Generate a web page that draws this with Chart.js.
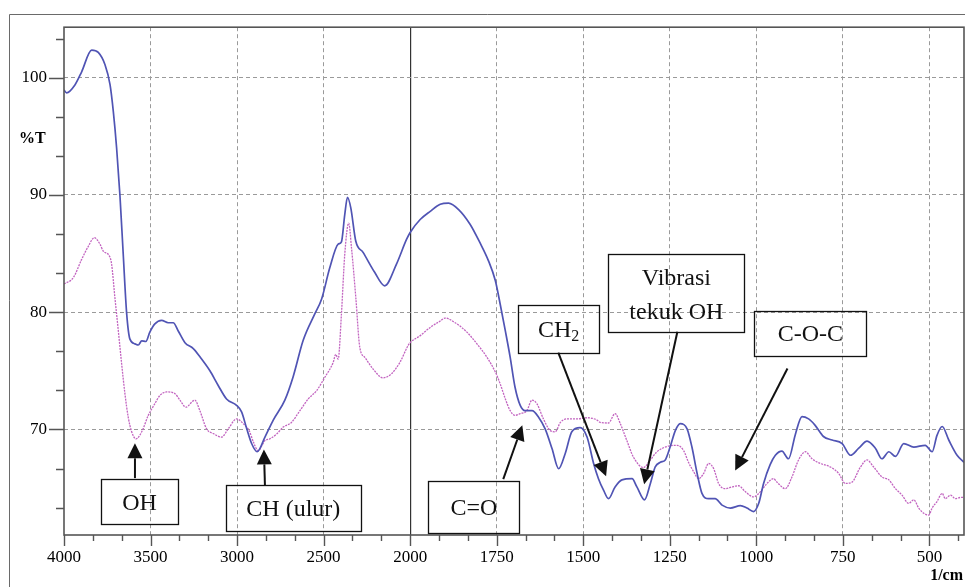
<!DOCTYPE html>
<html lang="id">
<head>
<meta charset="UTF-8">
<title>Spektrum FTIR</title>
<style>
  html, body { margin: 0; padding: 0; background: #fff; }
  #spektrum { display: block; }
</style>
</head>
<body>
<canvas id="spektrum" width="965" height="587"></canvas>
<script src="https://cdn.jsdelivr.net/npm/chart.js@4.4.1/dist/chart.umd.min.js"></script>
<script>
// bilangan gelombang (1/cm) dan %T
const biruWn = [4000, 3985, 3936, 3898, 3840, 3802, 3763, 3734, 3715, 3696, 3677, 3658, 3638, 3619, 3590, 3571, 3551, 3527, 3504, 3475,
  3436, 3398, 3369, 3340, 3301, 3253, 3205, 3157, 3109, 3061, 3003, 2974, 2945, 2916, 2884, 2839, 2791, 2724, 2676, 2618,
  2551, 2512, 2464, 2416, 2397, 2378, 2362, 2343, 2314, 2272, 2205, 2147, 2079, 2021, 2000, 1971, 1942, 1913, 1889, 1860,
  1827, 1798, 1774, 1754, 1740, 1725, 1711, 1697, 1682, 1668, 1648, 1629, 1610, 1590, 1571, 1552, 1533, 1509, 1489, 1470,
  1456, 1441, 1427, 1408, 1388, 1359, 1345, 1323, 1306, 1292, 1277, 1263, 1249, 1234, 1220, 1200, 1186, 1171, 1157, 1138,
  1119, 1099, 1075, 1046, 1027, 1008, 993, 979, 960, 945, 926, 907, 887, 868, 849, 830, 806, 781, 752, 728,
  704, 680, 656, 637, 617, 598, 574, 545, 512, 492, 478, 463, 444, 420, 400];
const biruT = [98.95, 98.7, 99.4, 100.5, 102.35, 102.15, 101.1, 99.4, 97.1, 94.0, 90.0, 85.0, 79.9, 77.7, 77.3, 77.2, 77.55, 77.5, 78.3, 79.0,
  79.3, 79.1, 79.1, 78.4, 77.4, 76.9, 76.0, 75.0, 73.75, 72.6, 72.05, 71.5, 70.1, 68.8, 68.1, 69.35, 70.8, 72.5, 74.5, 77.6,
  79.85, 81.1, 83.8, 85.8, 86.0, 88.3, 89.8, 88.9, 86.05, 85.1, 83.4, 82.25, 84.1, 86.2, 86.8, 87.9, 88.6, 89.2, 89.3, 88.75,
  87.5, 85.9, 84.4, 82.7, 80.7, 78.4, 76.15, 73.6, 72.05, 71.6, 71.6, 71.05, 70.05, 68.35, 66.65, 67.95, 69.8, 70.15, 69.35, 67.1,
  65.8, 64.8, 64.1, 65.1, 65.7, 65.8, 65.1, 64.0, 65.4, 66.8, 67.2, 67.4, 68.5, 69.9, 70.5, 70.05, 68.5, 66.25, 64.55, 64.1,
  64.1, 63.55, 63.3, 63.5, 63.3, 63.0, 63.7, 65.4, 67.0, 67.8, 68.15, 67.5, 69.6, 71.1, 70.9, 70.35, 69.4, 69.1, 68.8, 67.8,
  68.4, 69.0, 68.4, 67.5, 68.1, 67.7, 68.8, 68.5, 68.65, 68.1, 69.5, 70.25, 69.1, 67.8, 67.2];

const unguWn = [4000, 3946, 3898, 3860, 3825, 3792, 3773, 3738, 3725, 3706, 3686, 3667, 3648, 3629, 3609, 3584, 3551, 3513, 3475, 3446,
  3407, 3359, 3330, 3296, 3244, 3215, 3176, 3138, 3090, 3051, 3003, 2955, 2930, 2905, 2878, 2839, 2811, 2772, 2734, 2686,
  2637, 2589, 2541, 2493, 2445, 2430, 2416, 2397, 2378, 2355, 2339, 2314, 2291, 2262, 2214, 2157, 2108, 2060, 2012, 2000,
  1971, 1942, 1913, 1899, 1870, 1836, 1807, 1778, 1754, 1740, 1725, 1711, 1697, 1682, 1663, 1648, 1634, 1615, 1595, 1581,
  1566, 1547, 1518, 1489, 1460, 1451, 1427, 1408, 1393, 1374, 1355, 1326, 1306, 1287, 1258, 1229, 1210, 1196, 1181, 1167,
  1152, 1138, 1123, 1109, 1090, 1070, 1051, 1032, 1008, 988, 969, 950, 940, 916, 897, 878, 858, 839, 815, 786,
  762, 743, 724, 699, 680, 661, 637, 617, 598, 579, 560, 545, 531, 516, 502, 492, 478, 463, 454, 439,
  425, 410, 402];
const unguT = [82.4, 82.95, 84.5, 85.6, 86.35, 85.8, 85.2, 84.8, 84.1, 81.25, 78.4, 75.6, 73.05, 71.05, 69.8, 69.2, 69.8, 71.2, 72.2, 72.9,
  73.2, 73.05, 72.5, 71.9, 72.5, 71.6, 70.05, 69.65, 69.35, 70.05, 70.9, 70.35, 69.9, 68.9, 68.2, 69.05, 69.2, 69.6, 70.2, 70.6,
  71.6, 72.6, 73.3, 74.45, 75.7, 76.4, 76.0, 79.85, 84.9, 87.6, 85.5, 81.25, 77.0, 76.15, 75.15, 74.4, 74.75, 75.7, 77.15, 77.4,
  78.0, 78.7, 79.25, 79.5, 79.1, 78.3, 77.3, 76.15, 74.9, 73.9, 72.6, 71.6, 71.2, 71.35, 71.6, 72.5, 72.2, 70.9, 69.9, 69.8,
  70.6, 70.9, 70.9, 71.0, 70.8, 70.6, 70.55, 71.35, 70.5, 69.05, 67.65, 66.75, 67.4, 68.1, 68.55, 68.65, 68.2, 67.2, 66.4, 65.8,
  66.25, 67.1, 66.65, 65.4, 64.95, 65.1, 65.2, 64.7, 64.25, 64.7, 65.4, 65.8, 65.5, 64.95, 65.95, 67.4, 68.1, 67.5, 67.1, 66.8,
  66.25, 65.4, 65.5, 66.8, 67.4, 66.8, 65.95, 65.7, 64.95, 64.4, 63.7, 64.0, 63.3, 62.85, 62.7, 63.3, 63.85, 64.55, 64.1, 64.4,
  64.1, 64.2, 64.2];

// tick berlabel
const xMajor = [4000, 3500, 3000, 2500, 2000, 1750, 1500, 1250, 1000, 750, 500];
const yMajor = [70, 80, 90, 100];

// keterangan gugus fungsi
const notes = [
  { text: ['OH'], box: [3564, 63.85], w: 77, h: 45, from: [3590, 65.85], to: [3590, 68.82] },
  { text: ['CH (ulur)'], box: [2675, 63.3], w: 135, h: 46, from: [2839, 65.25], to: [2845, 68.3] },
  { text: ['C=O'], box: [1816, 63.38], w: 91, h: 52, from: [1731, 65.76], to: [1676, 70.35] },
  { text: ['CH'], sub: '2', box: [1571, 78.6], w: 81, h: 48, from: [1572, 76.55], to: [1434, 66.0] },
  { text: ['Vibrasi', 'tekuk OH'], box: [1231, 81.65], w: 136, h: 78, from: [1228, 78.33], to: [1324, 65.33] },
  { text: ['C-O-C'], box: [844, 78.2], w: 112, h: 45, from: [910, 75.2], to: [1061, 66.5] }
];

const BREAK = 2000;
const FONT = '"Liberation Serif", "Times New Roman", serif';

// skala x: di atas 2000 1/cm dipadatkan setengah
function squeeze(v) { return v <= BREAK ? v : BREAK + (v - BREAK) / 2; }
function unsqueeze(t) { return t <= BREAK ? t : BREAK + (t - BREAK) * 2; }

class BrokenScale extends Chart.LinearScale {
  getPixelForValue(value) {
    if (value === null || value === undefined || isNaN(value)) return NaN;
    const a = squeeze(this.min), b = squeeze(this.max);
    return this.getPixelForDecimal((squeeze(value) - a) / (b - a));
  }
  getValueForPixel(pixel) {
    const a = squeeze(this.min), b = squeeze(this.max);
    return unsqueeze(a + this.getDecimalForPixel(pixel) * (b - a));
  }
}
BrokenScale.id = 'broken';
BrokenScale.defaults = { ticks: { callback: Chart.Ticks.formatters.numeric } };
Chart.register(BrokenScale);

// tick kecil: tiap sepertiga jarak tick berlabel
function withMinor(major, lo, hi) {
  const out = [];
  for (let i = 0; i < major.length; i++) {
    out.push(major[i]);
    const next = i + 1 < major.length ? major[i + 1] : null;
    const prev = i > 0 ? major[i - 1] : null;
    const step = next !== null ? (next - major[i]) / 3 : (major[i] - prev) / 3;
    for (let k = 1; k < 3; k++) {
      const v = major[i] + step * k;
      if (v >= lo && v <= hi) out.push(v);
    }
    if (i === 0) {
      for (let k = 1; k < 3; k++) {
        const v = major[0] - step * k;
        if (v >= lo && v <= hi) out.push(v);
      }
    }
  }
  return out.sort((a, b) => a - b);
}
const xTicks = withMinor(xMajor, 400, 4000);
const yTicks = withMinor(yMajor, 61, 104.3);
const isMajor = (list, v) => list.some(m => Math.abs(m - v) < 1e-6);

function pairs(xs, ys) { return xs.map((x, i) => ({ x: x, y: ys[i] })); }

function arrow(ctx, x1, y1, x2, y2) {
  const ang = Math.atan2(y2 - y1, x2 - x1);
  const head = 15, half = 7.5;
  const bx = x2 - head * Math.cos(ang), by = y2 - head * Math.sin(ang);
  ctx.beginPath();
  ctx.moveTo(x1, y1);
  ctx.lineTo(bx, by);
  ctx.stroke();
  ctx.beginPath();
  ctx.moveTo(x2, y2);
  ctx.lineTo(bx + half * Math.sin(ang), by - half * Math.cos(ang));
  ctx.lineTo(bx - half * Math.sin(ang), by + half * Math.cos(ang));
  ctx.closePath();
  ctx.fill();
}

const decor = {
  id: 'decor',
  beforeDraw(chart) {
    const ctx = chart.ctx;
    ctx.save();
    ctx.strokeStyle = '#6a6a6a';
    ctx.lineWidth = 1;
    ctx.beginPath();
    ctx.moveTo(9.5, chart.height);
    ctx.lineTo(9.5, 14.5);
    ctx.lineTo(chart.width, 14.5);
    ctx.stroke();
    ctx.restore();
  },
  afterDatasetsDraw(chart) {
    const ctx = chart.ctx, area = chart.chartArea;
    const sx = chart.scales.x, sy = chart.scales.y;
    ctx.save();
    // bingkai area plot
    ctx.strokeStyle = '#555';
    ctx.lineWidth = 1.6;
    ctx.strokeRect(area.left, area.top, area.right - area.left, area.bottom - area.top);
    // tanda tick
    ctx.lineWidth = 1.4;
    ctx.beginPath();
    sx.ticks.forEach(t => {
      const px = Math.round(sx.getPixelForValue(t.value)) + 0.5;
      const len = isMajor(xMajor, t.value) ? 11 : 6;
      ctx.moveTo(px, area.bottom);
      ctx.lineTo(px, area.bottom + len);
    });
    sy.ticks.forEach(t => {
      const py = Math.round(sy.getPixelForValue(t.value)) + 0.5;
      const len = isMajor(yMajor, t.value) ? 15 : 8;
      ctx.moveTo(area.left, py);
      ctx.lineTo(area.left - len, py);
    });
    ctx.stroke();

    // judul sumbu
    ctx.fillStyle = '#000';
    ctx.font = 'bold 16px ' + FONT;
    ctx.textAlign = 'left';
    ctx.textBaseline = 'alphabetic';
    ctx.fillText('%T', area.left - 45, sy.getPixelForValue(94.4));
    ctx.textAlign = 'right';
    ctx.fillText('1/cm', chart.width - 2, chart.height - 7);

    // keterangan
    ctx.strokeStyle = '#111';
    ctx.fillStyle = '#111';
    notes.forEach(n => {
      const cx = sx.getPixelForValue(n.box[0]), cy = sy.getPixelForValue(n.box[1]);
      ctx.lineWidth = 1.3;
      ctx.strokeRect(Math.round(cx - n.w / 2) + 0.5, Math.round(cy - n.h / 2) + 0.5, n.w, n.h);
      ctx.lineWidth = 2;
      arrow(ctx, sx.getPixelForValue(n.from[0]), sy.getPixelForValue(n.from[1]),
        sx.getPixelForValue(n.to[0]), sy.getPixelForValue(n.to[1]));
      ctx.textAlign = 'center';
      ctx.textBaseline = 'alphabetic';
      ctx.font = '24px ' + FONT;
      if (n.text.length === 1 && !n.sub) {
        ctx.fillText(n.text[0], cx, cy + 8);
      } else if (n.sub) {
        ctx.font = '24px ' + FONT;
        const w1 = ctx.measureText(n.text[0]).width;
        ctx.font = '16px ' + FONT;
        const w2 = ctx.measureText(n.sub).width;
        const left = cx - (w1 + w2) / 2;
        ctx.textAlign = 'left';
        ctx.font = '24px ' + FONT;
        ctx.fillText(n.text[0], left, cy + 8);
        ctx.font = '16px ' + FONT;
        ctx.fillText(n.sub, left + w1, cy + 12);
      } else {
        ctx.fillText(n.text[0], cx, cy - 16 + 8);
        ctx.fillText(n.text[1], cx, cy + 18 + 8);
      }
    });
    ctx.restore();
  }
};

Chart.defaults.font.family = FONT;

new Chart(document.getElementById('spektrum'), {
  type: 'line',
  data: {
    datasets: [
      {
        label: 'Sampel 1',
        data: pairs(biruWn, biruT),
        borderColor: '#5054b4',
        borderWidth: 1.7,
        pointRadius: 0,
        cubicInterpolationMode: 'monotone',
        fill: false
      },
      {
        label: 'Sampel 2',
        data: pairs(unguWn, unguT),
        borderColor: '#c264c0',
        borderWidth: 1.3,
        borderDash: [2, 1],
        pointRadius: 0,
        cubicInterpolationMode: 'monotone',
        fill: false
      }
    ]
  },
  options: {
    responsive: false,
    devicePixelRatio: 1,
    animation: false,
    events: [],
    layout: { padding: { top: 26, right: 1, left: 0, bottom: 0 } },
    plugins: { legend: { display: false }, tooltip: { enabled: false } },
    scales: {
      x: {
        type: 'broken',
        reverse: true,
        min: 400,
        max: 4000,
        afterBuildTicks: s => { s.ticks = xTicks.map(v => ({ value: v })); },
        afterFit: s => { s.height = 52; },
        grid: {
          drawTicks: false,
          lineWidth: c => (c.tick && c.tick.value === BREAK) ? 1.2 : 1,
          color: c => {
            if (!c.tick) return '#555';
            if (c.tick.value === BREAK) return '#333';
            if (c.tick.value === 4000 || !isMajor(xMajor, c.tick.value)) return 'rgba(0,0,0,0)';
            return '#9a9a9a';
          }
        },
        border: { display: false, dash: c => (c.tick && c.tick.value === BREAK) ? [] : [4, 3] },
        ticks: {
          autoSkip: false,
          maxRotation: 0,
          padding: 12,
          color: '#000',
          font: { size: 17 },
          callback: v => isMajor(xMajor, v) ? String(Math.round(v)) : ''
        }
      },
      y: {
        min: 61,
        max: 104.3,
        afterBuildTicks: s => { s.ticks = yTicks.map(v => ({ value: v })); },
        afterFit: s => { s.width = 64; },
        grid: {
          drawTicks: false,
          color: c => (c.tick && isMajor(yMajor, c.tick.value)) ? '#9a9a9a' : 'rgba(0,0,0,0)'
        },
        border: { display: false, dash: [4, 3] },
        ticks: {
          autoSkip: false,
          padding: 17,
          color: '#000',
          font: { size: 17 },
          callback: v => isMajor(yMajor, v) ? String(Math.round(v)) : ''
        }
      }
    }
  },
  plugins: [decor]
});
</script>
</body>
</html>
